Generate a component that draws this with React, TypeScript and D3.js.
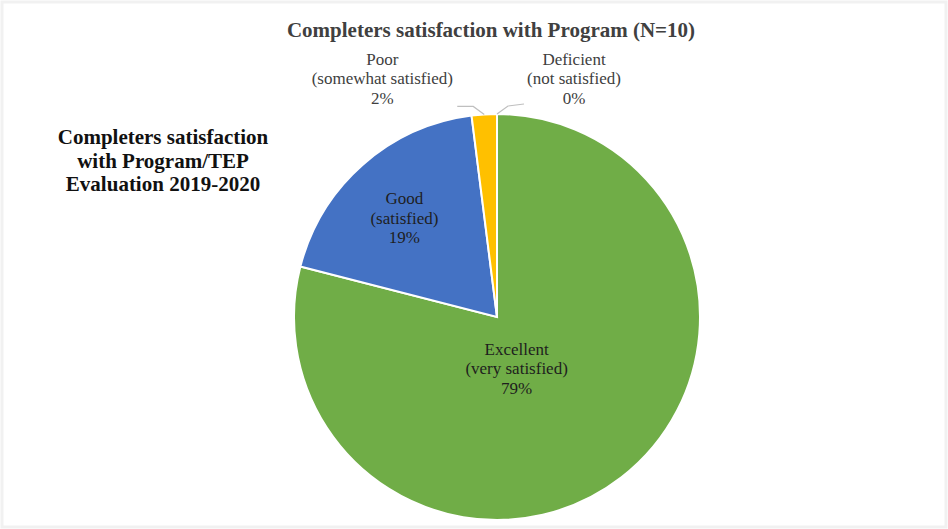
import * as d3 from "d3";
import { useEffect } from "react";

const WIDTH = 948;
const HEIGHT = 529;
const CENTER = { x: 497, y: 317 };
const RADIUS = 203;
const SERIF = "Liberation Serif";

// chart data
const categories = ["Excellent", "Good", "Poor", "Deficient"];
const subLabels = ["(very satisfied)", "(satisfied)", "(somewhat satisfied)", "(not satisfied)"];
const percents = [79, 19, 2, 0];
const colors = ["#70AD47", "#4472C4", "#FFC000", "#A5A5A5"];

const title = "Completers satisfaction with Program (N=10)";
const sideTitle = ["Completers satisfaction", "with Program/TEP", "Evaluation 2019-2020"];

// label placement: inside slices use a radius fraction (+ small nudge), outside ones get a leader line
const INSIDE_RADIUS = [0.27, 0.69];
const INSIDE_NUDGE = [
  [-14, 8],
  [0, 6],
];
const OUTSIDE_LABEL = [
  { dx: -102, dy: -36, side: -1 },
  { dx: 77, dy: -36, side: 1 },
];

type Slice = d3.PieArcDatum<number>;

export default function App() {
  useEffect(() => {
    document.body.style.margin = "0";
  }, []);

  const pie = d3.pie<number>().sort(null).value((d) => d);
  const slices: Slice[] = pie(percents);
  const arc = d3.arc<Slice>().innerRadius(0).outerRadius(RADIUS);

  const lineFont = 17;
  const lineGap = 19.5;

  const renderLabel = (i: number, x: number, y: number, fill: string) => (
    <text key={`lbl-${i}`} textAnchor="middle" fontFamily={SERIF} fontSize={lineFont} fill={fill}>
      {[categories[i], subLabels[i], `${percents[i]}%`].map((t, k) => (
        <tspan key={k} x={x} y={y + (k - 1) * lineGap + 6}>
          {t}
        </tspan>
      ))}
    </text>
  );

  return (
    <svg width={WIDTH} height={HEIGHT} style={{ display: "block", background: "#fff" }}>
      <rect x={2} y={2} width={WIDTH - 4} height={HEIGHT - 4} fill="none" stroke="#f1f1f1" strokeWidth={3} />
      <text x={491} y={37} textAnchor="middle" fontFamily={SERIF} fontWeight="bold" fontSize={21} fill="#404040">
        {title}
      </text>
      <text textAnchor="middle" fontFamily={SERIF} fontWeight="bold" fontSize={21} fill="#111">
        {sideTitle.map((t, k) => (
          <tspan key={k} x={163} y={144 + k * 23.5}>
            {t}
          </tspan>
        ))}
      </text>

      <g transform={`translate(${CENTER.x},${CENTER.y})`}>
        {slices.map((s, i) => (
          <path key={i} d={arc(s) || ""} fill={colors[i]} stroke="#fff" strokeWidth={2} />
        ))}
        {slices.map((s, i) => {
          if (i < 2) {
            const r = RADIUS * INSIDE_RADIUS[i];
            const [cx, cy] = d3.arc<Slice>().innerRadius(r).outerRadius(r).centroid(s);
            return renderLabel(i, cx + INSIDE_NUDGE[i][0], cy + INSIDE_NUDGE[i][1], "#1e1e1e");
          }
          const o = OUTSIDE_LABEL[i - 2];
          const mid = i === 2 ? (s.startAngle + s.endAngle) / 2 : s.endAngle;
          const px = Math.sin(mid) * RADIUS;
          const py = -Math.cos(mid) * RADIUS;
          const knee: [number, number] = [px + o.side * 11, py - 8];
          const end: [number, number] = [knee[0] + o.side * 16, knee[1] - (o.side > 0 ? 2 : 0)];
          const line = d3.line()([[px, py], knee, end]);
          return (
            <g key={`out-${i}`}>
              <path d={line || ""} fill="none" stroke="#bfbfbf" strokeWidth={1.2} />
              {renderLabel(i, px + o.dx, py + o.dy, "#404040")}
            </g>
          );
        })}
      </g>
    </svg>
  );
}
